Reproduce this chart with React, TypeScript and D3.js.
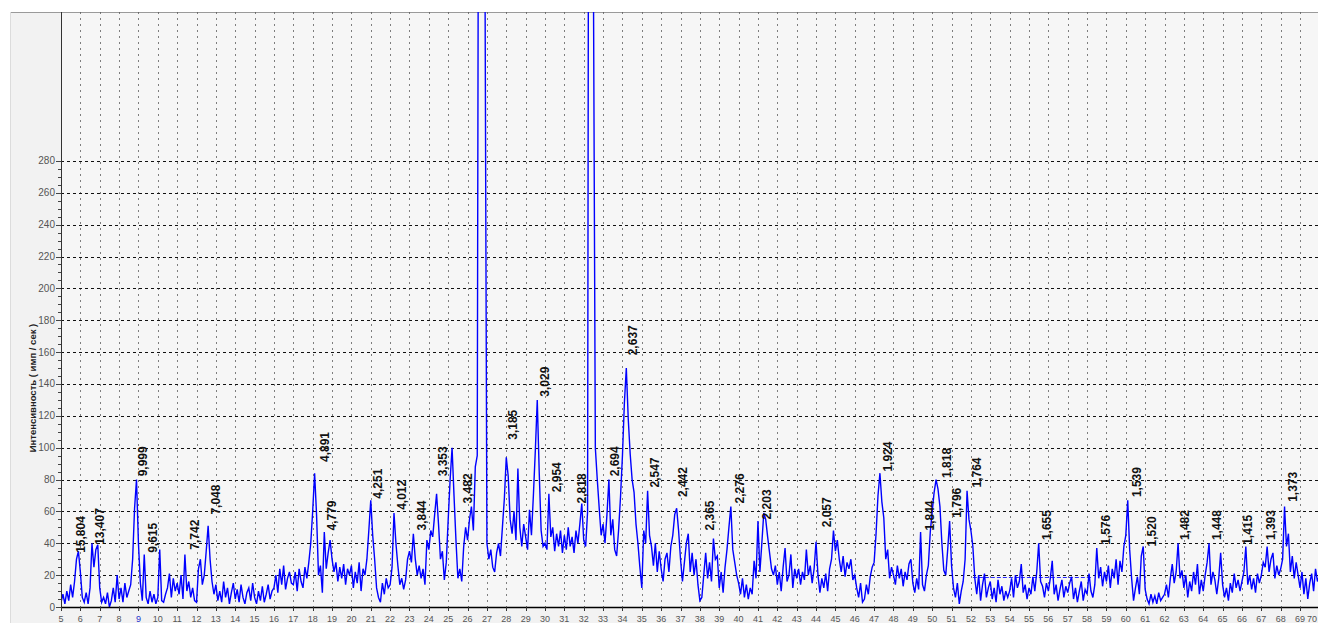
import React, { useEffect, useRef } from "react";
import * as d3 from "d3";

// XRD scan, 2θ from 5° to 70°, step 0.1°
const scanStart = 5;
const scanStep = 0.1;
const counts = [
  3, 8, 2, 10, 4, 14, 6, 16, 30, 35,
  22, 6, 3, 9, 2, 12, 40, 25, 36, 39,
  12, 3, 6, 2, 9, 0, 4, 12, 3, 20,
  5, 12, 3, 15, 6, 10, 14, 30, 62, 80,
  40, 15, 4, 33, 6, 2, 10, 3, 8, 2,
  6, 36, 4, 3, 8, 12, 21, 6, 18, 10,
  15, 8, 20, 5, 33, 10, 16, 6, 12, 4,
  3, 24, 30, 14, 20, 35, 51, 30, 16, 8,
  14, 4, 10, 3, 16, 6, 12, 2, 9, 15,
  5, 11, 3, 14, 6, 2, 9, 12, 4, 15,
  6, 2, 10, 4, 13, 3, 8, 14, 5, 10,
  12, 20, 9, 24, 14, 26, 11, 18, 22, 15,
  14, 22, 10, 24, 16, 12, 25, 18, 28, 40,
  60, 84, 58, 20, 26, 9, 47, 24, 34, 42,
  30, 22, 28, 16, 25, 18, 27, 14, 24, 20,
  26, 12, 22, 15, 28, 10, 24, 20, 30, 48,
  67, 45, 30, 12, 6, 3, 15, 8, 18, 12,
  14, 25, 59, 40, 26, 14, 18, 11, 17, 30,
  35, 28, 46, 30, 20, 26, 18, 24, 14, 42,
  36, 48, 44, 58, 71, 52, 30, 35, 17, 28,
  55, 80, 100, 70, 42, 18, 24, 16, 38, 50,
  42, 55, 63, 48, 88, 95, 700, 1500, 1200, 400,
  40, 30, 36, 25, 22, 34, 40, 32, 50, 68,
  94, 82, 55, 46, 60, 42, 87, 50, 38, 52,
  44, 36, 61, 45, 70, 98, 130, 85, 48, 38,
  40, 36, 71, 44, 50, 35, 46, 38, 48, 34,
  45, 36, 50, 38, 44, 34, 48, 40, 52, 65,
  42, 38, 60, 900, 1500, 400, 100, 80, 62, 45,
  52, 40, 58, 80, 45, 55, 36, 32, 48, 69,
  95, 128, 150, 118, 96, 80, 72, 52, 40, 25,
  12, 48, 40, 73, 45, 38, 26, 40, 22, 35,
  24, 16, 30, 34, 22, 38, 45, 58, 62, 48,
  30, 16, 28, 40, 46, 22, 34, 20, 30, 14,
  4, 6, 20, 34, 18, 28, 16, 43, 30, 32,
  12, 22, 9, 25, 36, 50, 63, 36, 28, 20,
  15, 8, 18, 6, 14, 5, 12, 8, 29, 18,
  54, 22, 40, 59, 55, 44, 34, 24, 20, 26,
  14, 22, 10, 25, 37, 16, 20, 33, 12, 24,
  18, 24, 14, 22, 17, 36, 20, 26, 15, 24,
  41, 20, 9, 18, 12, 21, 10, 24, 30, 48,
  35, 42, 30, 22, 32, 19, 28, 24, 30, 17,
  20, 12, 6, 15, 3, 5, 14, 8, 19, 25,
  28, 46, 70, 84, 66, 56, 30, 36, 18, 25,
  20, 14, 26, 18, 24, 13, 22, 17, 27, 30,
  15, 9, 18, 11, 47, 14, 10, 20, 26, 47,
  60, 72, 80, 74, 63, 40, 23, 20, 36, 54,
  26, 12, 6, 15, 2, 10, 16, 30, 73, 55,
  48, 38, 18, 8, 20, 4, 14, 21, 6, 12,
  16, 5, 12, 3, 17, 8, 13, 4, 10, 6,
  10, 18, 6, 20, 12, 16, 27, 9, 14, 5,
  12, 8, 19, 10, 22, 40, 16, 13, 6, 15,
  10, 18, 29, 8, 14, 4, 11, 17, 6, 13,
  9, 15, 19, 5, 12, 3, 10, 16, 4, 11,
  8, 21, 10, 6, 14, 37, 18, 25, 13, 22,
  16, 26, 12, 24, 18, 30, 14, 29, 22, 38,
  45, 67, 36, 18, 4, 12, 19, 8, 32, 38,
  11, 5, 2, 8, 3, 7, 2, 9, 4, 6,
  8, 14, 6, 18, 27, 15, 22, 40, 18, 23,
  12, 20, 6, 16, 10, 22, 14, 27, 8, 17,
  10, 20, 28, 40, 14, 22, 17, 8, 18, 34,
  14, 6, 12, 4, 15, 9, 21, 12, 17, 10,
  16, 22, 38, 14, 20, 11, 18, 9, 21, 15,
  20, 28, 25, 38, 22, 30, 34, 18, 26, 20,
  24, 30, 63, 38, 46, 22, 32, 18, 28, 20,
  12, 22, 8, 18, 5, 15, 21, 10, 24, 16,
  20,
];

// d-spacing labels, where they sit (2θ) and how high (counts)
const peakLabels = [
  "15,804", "13,407", "9,999", "9,615", "7,742", "7,048", "4,891", "4,779",
  "4,251", "4,012", "3,844", "3,353", "3,482", "3,185", "3,029", "2,954",
  "2,818", "2,694", "2,637", "2,547", "2,442", "2,365", "2,276", "2,203",
  "2,057", "1,924", "1,844", "1,818", "1,796", "1,764", "1,655", "1,576",
  "1,539", "1,520", "1,482", "1,448", "1,415", "1,393", "1,373",
];
const peakAngles = [
  6.26, 7.24, 9.46, 9.98, 12.15, 13.23, 18.86, 19.22,
  21.6, 22.84, 23.87, 24.96, 26.25, 28.57, 30.23, 30.85,
  32.14, 33.84, 34.77, 35.91, 37.35, 38.75, 40.3, 41.69,
  44.79, 47.94, 50.11, 50.99, 51.51, 52.54, 56.16, 59.2,
  60.81, 61.58, 63.28, 64.94, 66.54, 67.73, 68.86,
];
const peakHeights = [
  34, 39, 82, 34, 36, 58, 91, 48,
  68, 61, 48, 82, 65, 105, 132, 72,
  65, 82, 158, 75, 69, 48, 65, 55,
  50, 85, 48, 81, 56, 75, 42, 39,
  69, 38, 42, 42, 39, 42, 66,
];

const yTicks = [0, 20, 40, 60, 80, 100, 120, 140, 160, 180, 200, 220, 240, 260, 280];
const xTicks = d3.range(5, 71);
const backgroundSpan = [52.1, 58.2];
const backgroundLevel = 19;

const App = () => {
  const chartRef = useRef<SVGSVGElement>(null);

  useEffect(() => {
    const width = 1318;
    const height = 623;
    const left = 61;
    const top = 12;
    const bottom = 607;
    const font = "Arial, 'Liberation Sans', sans-serif";

    const svg = d3.select(chartRef.current);
    svg.selectAll("*").remove();

    const x = d3.scaleLinear().domain([5, 70]).range([left, left + 65 * 19.36]);
    const y = d3.scaleLinear().domain([0, 373.5]).range([bottom, top]);

    svg.append("rect").attr("width", width).attr("height", height).attr("fill", "#fff");
    svg.append("rect")
      .attr("x", 10).attr("y", top).attr("width", width - 10).attr("height", height - top)
      .attr("fill", "#f2f2f2");
    svg.append("rect")
      .attr("x", left).attr("y", top).attr("width", width - left).attr("height", bottom - top)
      .attr("fill", "#f6f6f6");
    svg.append("line")
      .attr("x1", 10).attr("x2", width).attr("y1", top + 0.5).attr("y2", top + 0.5)
      .attr("stroke", "#9a9a9a");
    svg.append("line")
      .attr("x1", 10.5).attr("x2", 10.5).attr("y1", top).attr("y2", height)
      .attr("stroke", "#dcdcdc");

    // grid
    svg.append("g")
      .selectAll("line")
      .data(xTicks.filter((t) => t > 5))
      .join("line")
      .attr("x1", (d) => Math.round(x(d)) + 0.5)
      .attr("x2", (d) => Math.round(x(d)) + 0.5)
      .attr("y1", top)
      .attr("y2", bottom)
      .attr("stroke", "#555")
      .attr("stroke-opacity", 0.75)
      .attr("stroke-dasharray", "2,4");

    svg.append("g")
      .selectAll("line")
      .data(yTicks.filter((t) => t > 0))
      .join("line")
      .attr("x1", left)
      .attr("x2", width)
      .attr("y1", (d) => Math.round(y(d)) + 0.5)
      .attr("y2", (d) => Math.round(y(d)) + 0.5)
      .attr("stroke", "#111")
      .attr("stroke-dasharray", "3,3");

    // background marker
    svg.append("line")
      .attr("x1", x(backgroundSpan[0]))
      .attr("x2", x(backgroundSpan[1]))
      .attr("y1", Math.round(y(backgroundLevel)) + 0.5)
      .attr("y2", Math.round(y(backgroundLevel)) + 0.5)
      .attr("stroke", "#2a2aff")
      .attr("stroke-dasharray", "4,2");

    // trace
    svg.append("clipPath").attr("id", "plotClip")
      .append("rect")
      .attr("x", left).attr("y", top).attr("width", width - left).attr("height", bottom - top);

    const line = d3
      .line<number>()
      .x((d, i) => x(scanStart + i * scanStep))
      .y((d) => y(d));

    svg.append("path")
      .datum(counts)
      .attr("clip-path", "url(#plotClip)")
      .attr("d", line)
      .attr("fill", "none")
      .attr("stroke", "#0000ff")
      .attr("stroke-width", 1.4)
      .attr("stroke-linejoin", "miter");

    // y axis
    const yAxis = svg.append("g");
    yAxis.append("line")
      .attr("x1", left + 0.5).attr("x2", left + 0.5).attr("y1", top).attr("y2", bottom)
      .attr("stroke", "#333");
    yAxis.selectAll(".minor")
      .data(d3.range(0, 285, 5))
      .join("line")
      .attr("class", "minor")
      .attr("x1", (d) => (d % 20 === 0 ? left - 5 : left - 3))
      .attr("x2", left)
      .attr("y1", (d) => Math.round(y(d)) + 0.5)
      .attr("y2", (d) => Math.round(y(d)) + 0.5)
      .attr("stroke", "#444");
    yAxis.selectAll("text")
      .data(yTicks)
      .join("text")
      .attr("x", left - 6)
      .attr("y", (d) => y(d))
      .attr("dy", "0.35em")
      .attr("text-anchor", "end")
      .attr("font-family", font)
      .attr("font-size", 10)
      .attr("fill", "#555")
      .text((d) => d);

    svg.append("text")
      .attr("transform", "translate(36,388) rotate(-90)")
      .attr("text-anchor", "middle")
      .attr("font-family", font)
      .attr("font-weight", "bold")
      .attr("font-size", 9.5)
      .attr("fill", "#222")
      .text("Интенсивность ( имп / сек )");

    // x axis
    const xAxis = svg.append("g");
    xAxis.append("line")
      .attr("x1", left).attr("x2", width).attr("y1", bottom + 0.5).attr("y2", bottom + 0.5)
      .attr("stroke", "#000")
      .attr("stroke-width", 1.5);
    xAxis.selectAll(".tick")
      .data(xTicks)
      .join("line")
      .attr("class", "tick")
      .attr("x1", (d) => Math.round(x(d)) + 0.5)
      .attr("x2", (d) => Math.round(x(d)) + 0.5)
      .attr("y1", bottom)
      .attr("y2", bottom + 4)
      .attr("stroke", "#333");
    xAxis.selectAll("text")
      .data(xTicks)
      .join("text")
      .attr("x", (d) => Math.min(x(d), width - 1))
      .attr("y", 621.5)
      .attr("text-anchor", (d) => (x(d) + 6 > width ? "end" : "middle"))
      .attr("font-family", font)
      .attr("font-size", 9)
      .attr("fill", (d) => (d === 9 ? "#2233cc" : "#555"))
      .text((d) => d);

    // peak labels
    svg.append("g")
      .selectAll("text")
      .data(peakLabels)
      .join("text")
      .attr("transform", (d, i) => `translate(${x(peakAngles[i])},${y(peakHeights[i])}) rotate(-90)`)
      .attr("font-family", font)
      .attr("font-weight", "bold")
      .attr("font-size", 12)
      .attr("fill", "#111")
      .text((d) => d);
  }, []);

  return (
    <svg
      ref={chartRef}
      width={1318}
      height={623}
      style={{ position: "absolute", left: 0, top: 0, display: "block" }}
    />
  );
};

export default App;
